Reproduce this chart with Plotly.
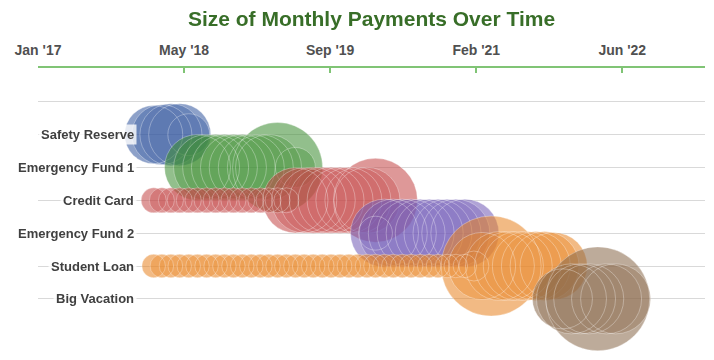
import plotly.graph_objects as go
from datetime import date, timedelta

# ---------------- data ----------------
categories = ["Safety Reserve", "Emergency Fund 1", "Credit Card",
              "Emergency Fund 2", "Student Loan", "Big Vacation"]

sr_months = ["2018-02", "2018-03", "2018-04", "2018-05", "2018-06"]
sr_pay = [675, 720, 770, 770, 350]

ef1_months = ["2018-07", "2018-08", "2018-09", "2018-10", "2018-11", "2018-12",
              "2019-01", "2019-02", "2019-03", "2019-04", "2019-06"]
ef1_pay = [870, 870, 870, 870, 870, 870, 870, 870, 870, 1620, 320]

cc_months = ["2018-02", "2018-03", "2018-04", "2018-05", "2018-06", "2018-07",
             "2018-08", "2018-09", "2018-10", "2018-11", "2018-12", "2019-01",
             "2019-02", "2019-03", "2019-04", "2019-05",
             "2019-06", "2019-07", "2019-08", "2019-09", "2019-10", "2019-11",
             "2019-12", "2020-01", "2020-02", "2020-03"]
cc_pay = [125, 125, 125, 125, 125, 125, 125, 125, 125, 125, 125, 125,
          125, 125, 125, 125,
          850, 850, 870, 870, 870, 870, 870, 870, 870, 1410]

ef2_months = ["2020-03", "2020-04", "2020-05", "2020-06", "2020-07", "2020-08",
              "2020-09", "2020-10", "2020-11", "2020-12", "2021-01"]
ef2_pay = [230, 925, 925, 925, 925, 925, 925, 925, 925, 925, 925]

sl_months = ["2018-02", "2018-03", "2018-04", "2018-05", "2018-06", "2018-07",
             "2018-08", "2018-09", "2018-10", "2018-11", "2018-12", "2019-01",
             "2019-02", "2019-03", "2019-04", "2019-05", "2019-06", "2019-07",
             "2019-08", "2019-09", "2019-10", "2019-11", "2019-12", "2020-01",
             "2020-02", "2020-03", "2020-04", "2020-05", "2020-06", "2020-07",
             "2020-08", "2020-09", "2020-10", "2020-11", "2020-12", "2021-01",
             "2021-02", "2021-03", "2021-04", "2021-05", "2021-06", "2021-07",
             "2021-08", "2021-09", "2021-10", "2021-11"]
sl_pay = [110, 110, 110, 110, 110, 110, 110, 110, 110, 110, 110, 110,
          110, 110, 110, 110, 110, 110, 110, 110, 110, 110, 110, 110,
          110, 110, 110, 110, 110, 110, 110, 110, 110, 110, 110, 110,
          180, 900, 2000, 950, 950, 950, 950, 950, 950, 900]

bv_months = ["2021-12", "2022-01", "2022-02", "2022-03", "2022-04",
             "2022-05", "2022-06"]
bv_pay = [720, 980, 980, 980, 2160, 980, 980]

series_months = [sr_months, ef1_months, cc_months, ef2_months, sl_months, bv_months]
series_pay = [sr_pay, ef1_pay, cc_pay, ef2_pay, sl_pay, bv_pay]
series_colors = ["#3458a0", "#3f8f33", "#c44848", "#735cb8", "#e88524", "#8a6a4b"]

tick_labels = ["Jan '17", "May '18", "Sep '19", "Feb '21", "Jun '22"]
tick_step_days = 500
axis_start = date(2017, 1, 1)
axis_end = date(2023, 4, 3)

# ---------------- figure ----------------
fig = go.Figure()
for i, (cat, months, pay, col) in enumerate(zip(categories, series_months,
                                                 series_pay, series_colors)):
    x = [m + "-01" for m in months]
    y = [i] * len(months)
    fig.add_trace(go.Scatter(
        x=x, y=y, mode="markers", name=cat, opacity=0.8, cliponaxis=False,
        marker=dict(size=pay, sizemode="area", sizeref=0.4, color=col,
                    line=dict(width=0)),
        hoverinfo="skip", showlegend=False))
    fig.add_trace(go.Scatter(
        x=x, y=y, mode="markers", cliponaxis=False,
        marker=dict(size=pay, sizemode="area", sizeref=0.4,
                    color="rgba(0,0,0,0)",
                    line=dict(width=1, color="rgba(255,255,255,0.45)")),
        hoverinfo="skip", showlegend=False))

tick_vals = [(axis_start + timedelta(days=tick_step_days * k)).isoformat()
             for k in range(len(tick_labels))]

for i, cat in enumerate(categories):
    fig.add_annotation(
        x=(137 - 38) / 667, xref="paper", xanchor="right",
        y=i, yref="y", yanchor="middle",
        text=cat, showarrow=False,
        font=dict(family="Liberation Sans", size=13, color="#404040", weight=700),
        bgcolor="rgba(255,255,255,0.8)", borderpad=2)

fig.update_layout(
    width=714, height=360,
    margin=dict(l=38, r=9, t=68, b=28, autoexpand=False),
    paper_bgcolor="white", plot_bgcolor="white",
    title=dict(text="Size of Monthly Payments Over Time",
               x=(38 + 667 / 2) / 714, xanchor="center", y=1 - 19 / 360,
               yanchor="middle",
               font=dict(family="Liberation Sans", size=21, color="#386e28",
                         weight=700)),
    xaxis=dict(type="date", side="top", automargin=False,
               range=[axis_start.isoformat(), axis_end.isoformat()],
               tickvals=tick_vals, ticktext=tick_labels,
               showline=True, linecolor="#80c475", linewidth=2,
               ticks="inside", ticklen=5, tickwidth=2, tickcolor="#80c475",
               ticklabelstandoff=5,
               showgrid=False, zeroline=False,
               tickfont=dict(family="Liberation Sans", size=14, color="#505050",
                             weight=700)),
    yaxis=dict(range=[6.01, -2.03], tickvals=[-1, 0, 1, 2, 3, 4, 5, 6],
               automargin=False,
               showticklabels=False, showgrid=True, gridcolor="#d9d9d9",
               gridwidth=1, zeroline=False, showline=False, ticks=""),
    hovermode=False,
)

fig.write_html("out.html",
               config={"displayModeBar": False, "staticPlot": True},
               post_script="document.body.style.margin='0';"
                           "document.body.style.padding='0';")
